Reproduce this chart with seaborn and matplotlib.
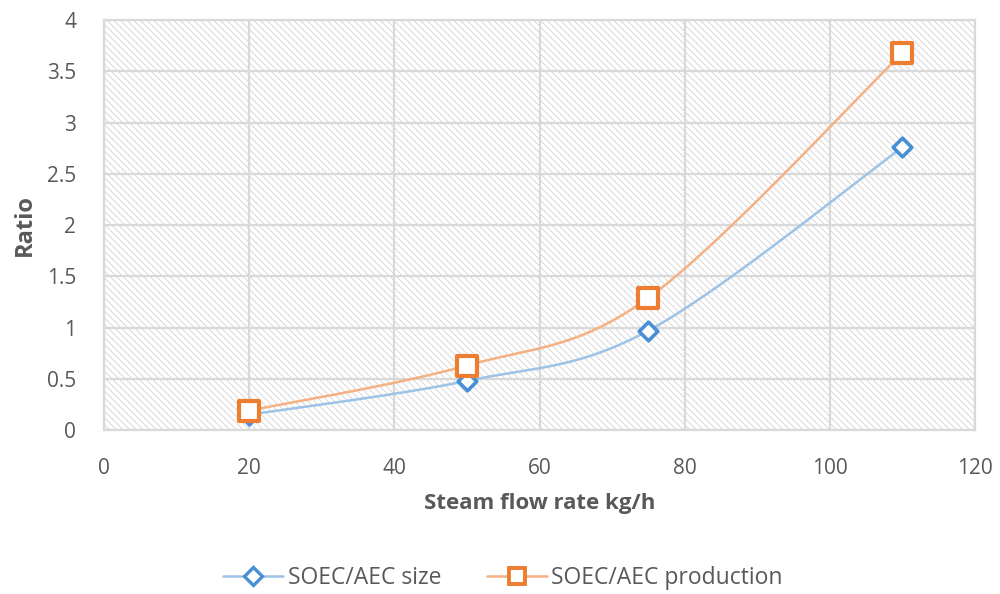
import numpy as np
import pandas as pd
import matplotlib
matplotlib.use("Agg")
import matplotlib.pyplot as plt
from matplotlib.patches import Rectangle
from matplotlib.lines import Line2D
import seaborn as sns

# Data
steam_flow = [20, 50, 75, 110]
size_ratio = [0.15, 0.48, 0.97, 2.76]
production_ratio = [0.19, 0.63, 1.29, 3.68]
x_ticks = [0, 20, 40, 60, 80, 100, 120]
y_ticks = [0, 0.5, 1, 1.5, 2, 2.5, 3, 3.5, 4]
y_tick_labels = ["0", "0.5", "1", "1.5", "2", "2.5", "3", "3.5", "4"]


def smooth(xs, ys, n=60):
    """Catmull-Rom style smoothing through every point (spreadsheet 'smoothed line')."""
    xs = np.asarray(xs, float)
    ys = np.asarray(ys, float)
    px = np.concatenate([[xs[0]], xs, [xs[-1]]])
    py = np.concatenate([[ys[0]], ys, [ys[-1]]])
    out_x, out_y = [], []
    for i in range(1, len(px) - 2):
        p0 = np.array([px[i - 1], py[i - 1]])
        p1 = np.array([px[i], py[i]])
        p2 = np.array([px[i + 1], py[i + 1]])
        p3 = np.array([px[i + 2], py[i + 2]])
        c1 = p1 + (p2 - p0) / 6.0
        c2 = p2 - (p3 - p1) / 6.0
        t = np.linspace(0, 1, n)[:, None]
        pts = ((1 - t) ** 3) * p1 + 3 * ((1 - t) ** 2) * t * c1 + 3 * (1 - t) * t ** 2 * c2 + t ** 3 * p2
        out_x.extend(pts[:, 0])
        out_y.extend(pts[:, 1])
    return np.array(out_x), np.array(out_y)


sns.set_theme(style="white")
plt.rcParams["font.family"] = ["Open Sans", "DejaVu Sans"]
plt.rcParams["hatch.linewidth"] = 0.6

fig = plt.figure(figsize=(10, 5.94), dpi=100)
ax = fig.add_axes([0.104, 0.276, 0.871, 0.690])

# Hatched plot-area background
ax.add_patch(Rectangle((0, 0), 1, 1, transform=ax.transAxes, facecolor="white",
                       edgecolor="#d2d2d2", hatch="\\\\\\\\\\", linewidth=0, zorder=0))

blue_line, blue_mark = "#9dc3e6", "#4a8fd6"
orange_line, orange_mark = "#f4b183", "#ed7d31"

sx, sy = smooth(steam_flow, size_ratio)
px_, py_ = smooth(steam_flow, production_ratio)
curves = pd.DataFrame({"x": sx, "y": sy})
curves2 = pd.DataFrame({"x": px_, "y": py_})
pts = pd.DataFrame({"flow": steam_flow, "size": size_ratio, "prod": production_ratio})

sns.lineplot(data=curves, x="x", y="y", color=blue_line, lw=1.8, ax=ax, sort=False, zorder=3)
sns.lineplot(data=curves2, x="x", y="y", color=orange_line, lw=1.8, ax=ax, sort=False, zorder=3)
sns.scatterplot(data=pts, x="flow", y="size", marker="D", s=90, facecolor="white",
                edgecolor=blue_mark, linewidth=2.6, ax=ax, zorder=4)
sns.scatterplot(data=pts, x="flow", y="prod", marker="s", s=190, facecolor="white",
                edgecolor=orange_mark, linewidth=3.0, ax=ax, zorder=5)

ax.set_xlim(0, 120)
ax.set_ylim(0, 4)
ax.set_xticks(x_ticks)
ax.set_yticks(y_ticks)
ax.set_yticklabels(y_tick_labels)
ax.grid(True, color="#d9d9d9", lw=1.6, zorder=1)
ax.set_axisbelow(True)
for s in ax.spines.values():
    s.set_color("#d9d9d9")
    s.set_linewidth(1.6)
ax.tick_params(axis="x", length=0, labelsize=15, colors="#595959", pad=20)
ax.tick_params(axis="y", length=0, labelsize=15, colors="#595959", pad=20)

ax.set_xlabel("Steam flow rate kg/h", fontsize=16, fontweight="bold", color="#595959", labelpad=10)
ax.set_ylabel("Ratio", fontsize=17, fontweight="bold", color="#595959", labelpad=7)

handles = [
    Line2D([], [], color=blue_line, lw=1.8, marker="D", markersize=9, markerfacecolor="white",
           markeredgecolor=blue_mark, markeredgewidth=2.4),
    Line2D([], [], color=orange_line, lw=1.8, marker="s", markersize=11, markerfacecolor="white",
           markeredgecolor=orange_mark, markeredgewidth=2.8),
]
fig.legend(handles, ["SOEC/AEC size", "SOEC/AEC production"], loc="center",
           bbox_to_anchor=(0.503, 0.027), ncol=2, frameon=False, fontsize=16.5,
           labelcolor="#595959", handlelength=2.6, columnspacing=2.0, handletextpad=0.2)

fig.savefig("out.png", dpi=100)
